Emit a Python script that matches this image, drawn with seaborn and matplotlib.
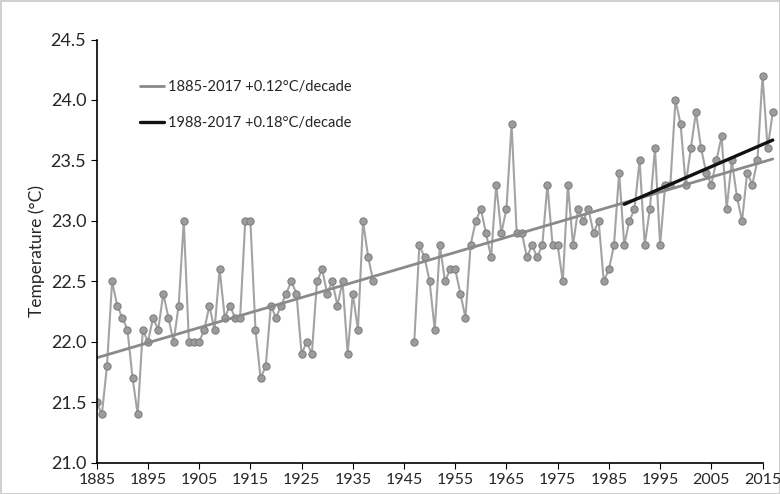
import numpy as np
import pandas as pd
import matplotlib.pyplot as plt
import seaborn as sns

# annual mean temperature (1940-1946 missing)
years_a = list(range(1885, 1940))
temps_a = [21.5, 21.4, 21.8, 22.5, 22.3, 22.2, 22.1, 21.7, 21.4, 22.1,
           22.0, 22.2, 22.1, 22.4, 22.2, 22.0, 22.3, 23.0, 22.0, 22.0,
           22.0, 22.1, 22.3, 22.1, 22.6, 22.2, 22.3, 22.2, 22.2, 23.0,
           23.0, 22.1, 21.7, 21.8, 22.3, 22.2, 22.3, 22.4, 22.5, 22.4,
           21.9, 22.0, 21.9, 22.5, 22.6, 22.4, 22.5, 22.3, 22.5, 21.9,
           22.4, 22.1, 23.0, 22.7, 22.5]
years_b = list(range(1947, 2018))
temps_b = [22.0, 22.8, 22.7, 22.5, 22.1, 22.8, 22.5, 22.6, 22.6, 22.4,
           22.2, 22.8, 23.0, 23.1, 22.9, 22.7, 23.3, 22.9, 23.1, 23.8,
           22.9, 22.9, 22.7, 22.8, 22.7, 22.8, 23.3, 22.8, 22.8, 22.5,
           23.3, 22.8, 23.1, 23.0, 23.1, 22.9, 23.0, 22.5, 22.6, 22.8,
           23.4, 22.8, 23.0, 23.1, 23.5, 22.8, 23.1, 23.6, 22.8, 23.3,
           23.3, 24.0, 23.8, 23.3, 23.6, 23.9, 23.6, 23.4, 23.3, 23.5,
           23.7, 23.1, 23.5, 23.2, 23.0, 23.4, 23.3, 23.5, 24.2, 23.6,
           23.9]

trend_labels = ['1885-2017 +0.12°C/decade', '1988-2017 +0.18°C/decade']
trend_starts = [1885, 1988]

df = pd.DataFrame({
    'year': years_a + years_b,
    'temp': temps_a + temps_b,
    'seg': [0] * len(years_a) + [1] * len(years_b),
})

sns.set_style("ticks")
plt.rcParams['font.family'] = ['Lato', 'DejaVu Sans']

fig = plt.figure(figsize=(7.8, 4.94), dpi=100)
fig.patch.set_edgecolor('#d0d0d0')
fig.patch.set_linewidth(2)
ax = fig.add_axes([0.124, 0.063, 0.872, 0.857])

sns.lineplot(data=df, x='year', y='temp', units='seg', estimator=None,
             color='#a3a3a3', lw=1.5, marker='o', markersize=5.2,
             markerfacecolor='#9c9c9c', markeredgecolor='#808080',
             markeredgewidth=0.8, ax=ax, legend=False)

# linear trends
for lab, start, col, lw in zip(trend_labels, trend_starts, ['#8a8a8a', '#111111'], [2.0, 2.4]):
    sub = df[df.year >= start]
    k, b = np.polyfit(sub.year, sub.temp, 1)
    xs = np.array([start, 2017])
    sns.lineplot(x=xs, y=k * xs + b, color=col, lw=lw, label=lab, ax=ax)

ax.set_xlim(1885, 2017.8)
ax.set_ylim(21.0, 24.5)
ax.set_xticks(range(1885, 2016, 10))
ax.set_yticks(np.arange(21.0, 24.51, 0.5))
ax.set_yticklabels([f'{v:.1f}' for v in np.arange(21.0, 24.51, 0.5)], fontsize=13)
ax.tick_params(axis='x', labelsize=11.5, length=4, color='black')
ax.tick_params(axis='y', length=4, color='black')
ax.spines['bottom'].set_bounds(1885, 2015)
for s in ['left', 'bottom']:
    ax.spines[s].set_color('black')
    ax.spines[s].set_linewidth(1.2)
sns.despine(ax=ax)
ax.set_xlabel('')
ax.set_ylabel('Temperature (°C)', fontsize=12.5)

ax.legend(loc='upper left', bbox_to_anchor=(0.045, 0.935), frameon=False,
          fontsize=10.5, handlelength=1.6, handletextpad=0.3, labelspacing=1.5)

fig.savefig('out.png', dpi=100)
